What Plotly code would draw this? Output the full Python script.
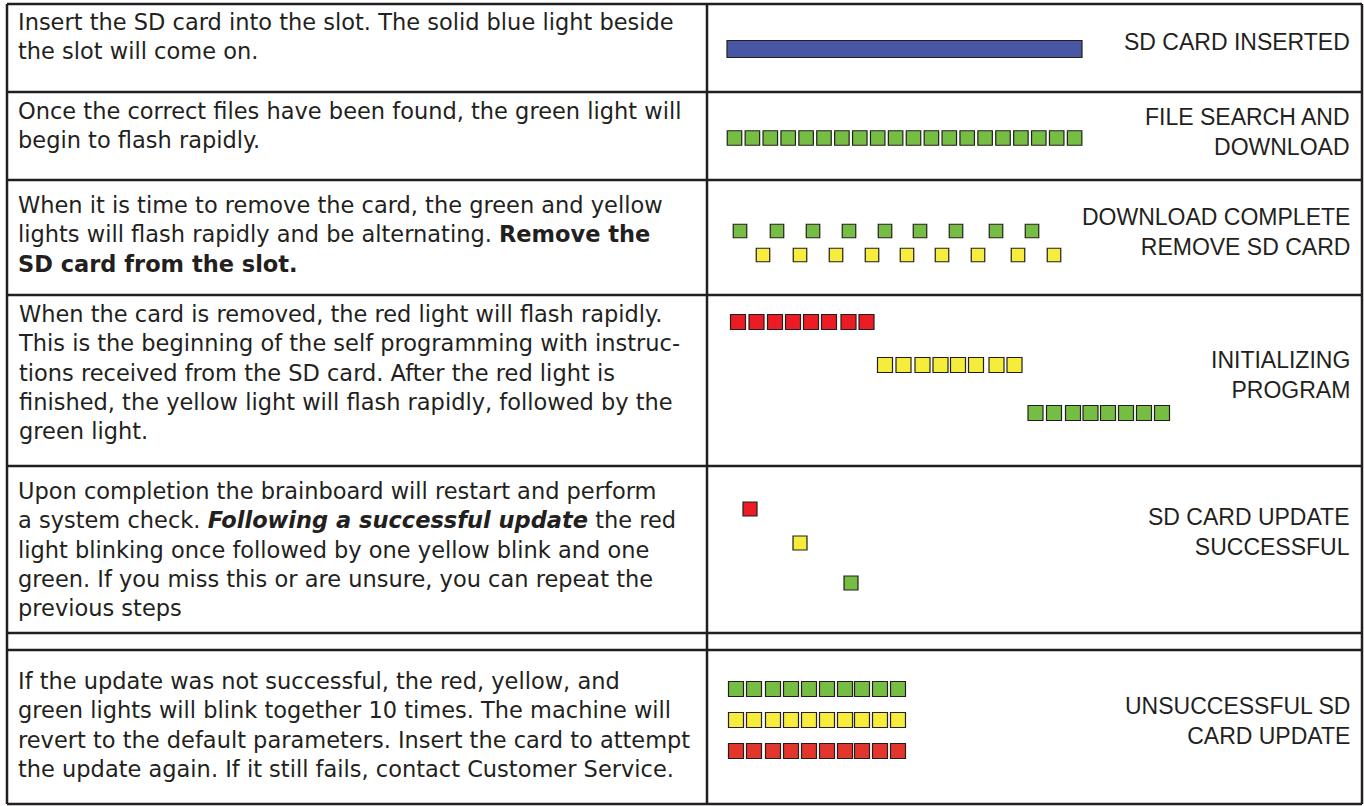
import plotly.graph_objects as go

W, H = 1364, 806

# ---- table grid (card layout, pixel units) ----
col_edges = [7, 707, 1362]
row_edges = [4, 92, 180, 295, 466, 633, 650, 804]

# ---- left column instruction text, one entry per printed line ----
row1_lines = ["Insert the SD card into the slot. The solid blue light beside",
              "the slot will come on."]
row2_lines = ["Once the correct files have been found, the green light will",
              "begin to flash rapidly."]
row3_lines = ["When it is time to remove the card, the green and yellow",
              "lights will flash rapidly and be alternating. <b>Remove the</b>",
              "<b>SD card from the slot.</b>"]
row4_lines = ["When the card is removed, the red light will flash rapidly.",
              "This is the beginning of the self programming with instruc-",
              "tions received from the SD card. After the red light is",
              "finished, the yellow light will flash rapidly, followed by the",
              "green light."]
row5_lines = ["Upon completion the brainboard will restart and perform",
              "a system check. <b><i>Following a successful update</i></b> the red",
              "light blinking once followed by one yellow blink and one",
              "green. If you miss this or are unsure, you can repeat the",
              "previous steps"]
row7_lines = ["If the update was not successful, the red, yellow, and",
              "green lights will blink together 10 times. The machine will",
              "revert to the default parameters. Insert the card to attempt",
              "the update again. If it still fails, contact Customer Service."]
left_first_line_y = [22, 111, 205, 314, 491, 681]

# ---- right column status labels ----
status_labels = [["SD CARD INSERTED"], ["FILE SEARCH AND", "DOWNLOAD"],
                 ["DOWNLOAD COMPLETE", "REMOVE SD CARD"], ["INITIALIZING", "PROGRAM"],
                 ["SD CARD UPDATE", "SUCCESSFUL"], ["UNSUCCESSFUL SD", "CARD UPDATE"]]
status_first_line_y = [42, 117, 217, 360, 517, 706]

# ---- LED light patterns (centres) ----
blue_bar_start, blue_bar_end, blue_bar_y = 727, 1082, 49

search_green_x = [734.5, 752.4, 770.3, 788.2, 806.1, 824.0, 841.9, 859.8, 877.7, 895.6,
                  913.5, 931.4, 949.3, 967.2, 985.1, 1003.0, 1020.9, 1038.8, 1056.7, 1074.6]
search_green_y = 138

complete_green_x = [740, 777, 813, 849, 885, 920, 956, 996, 1032]
complete_green_y = 231
complete_yellow_x = [763, 800, 836, 872, 907, 942, 978, 1018, 1054]
complete_yellow_y = 255

init_red_x = [738, 756.5, 775, 793, 811, 829, 848.5, 866.5]
init_red_y = 322
init_yellow_x = [885, 903.5, 922.5, 940.5, 958, 976, 996.5, 1014.5]
init_yellow_y = 365
init_green_x = [1035.5, 1054, 1073, 1090.5, 1108, 1126, 1144, 1162]
init_green_y = 413

success_x = [750, 800, 851]
success_y = [509, 543, 583]

fail_x = [736, 754, 773, 791, 809, 827, 845, 862, 880, 898]
fail_green_y, fail_yellow_y, fail_red_y = 689, 720, 751

# ---- styles ----
INK = "#231f20"
GREEN = "#76bd43"
YELLOW = "#f6ec3b"
RED = "#ec1c24"
RED2 = "#e2352b"
BLUE = "#4757a4"
BODY_FONT = "DejaVu Sans, Verdana, sans-serif"
LABEL_FONT = "Liberation Sans, Arial, sans-serif"
BODY_SIZE = 22.5
LABEL_SIZE = 23

fig = go.Figure()

# solid blue light
fig.add_trace(go.Bar(x=[blue_bar_end - blue_bar_start], base=[blue_bar_start], y=[blue_bar_y],
                     orientation="h", width=17,
                     marker=dict(color=BLUE, line=dict(color=INK, width=1.2)),
                     hoverinfo="skip"))


def leds(xs, ys, color, size=15):
    if not isinstance(ys, list):
        ys = [ys] * len(xs)
    fig.add_trace(go.Scatter(x=xs, y=ys, mode="markers", hoverinfo="skip",
                             marker=dict(symbol="square", size=size, color=color,
                                         line=dict(color=INK, width=1.2))))


leds(search_green_x, search_green_y, GREEN, 14.5)
leds(complete_green_x, complete_green_y, GREEN, 13.5)
leds(complete_yellow_x, complete_yellow_y, YELLOW, 13.5)
leds(init_red_x, init_red_y, RED, 15)
leds(init_yellow_x, init_yellow_y, YELLOW, 15)
leds(init_green_x, init_green_y, GREEN, 15)
leds(success_x[:1], success_y[:1], RED, 14)
leds(success_x[1:2], success_y[1:2], YELLOW, 14)
leds(success_x[2:], success_y[2:], GREEN, 14)
leds(fail_x, fail_green_y, GREEN, 15)
leds(fail_x, fail_yellow_y, YELLOW, 15)
leds(fail_x, fail_red_y, RED2, 15)

# grid lines
shapes = []
for yv in row_edges:
    shapes.append(dict(type="line", x0=col_edges[0], x1=col_edges[-1], y0=yv, y1=yv,
                       line=dict(color=INK, width=2.5)))
for xv in col_edges:
    shapes.append(dict(type="line", x0=xv, x1=xv, y0=row_edges[0], y1=row_edges[-1],
                       line=dict(color=INK, width=2.5)))

annotations = []
body_step = 1.3 * BODY_SIZE
for lines, y0 in zip([row1_lines, row2_lines, row3_lines, row4_lines, row5_lines, row7_lines],
                     left_first_line_y):
    yc = y0 + (len(lines) - 1) * body_step / 2
    annotations.append(dict(x=16, y=yc, text="<br>".join(lines), xanchor="left",
                            yanchor="middle", align="left", showarrow=False,
                            font=dict(family=BODY_FONT, size=BODY_SIZE, color=INK)))
label_step = 1.3 * LABEL_SIZE
for lines, y0 in zip(status_labels, status_first_line_y):
    yc = y0 + (len(lines) - 1) * label_step / 2
    annotations.append(dict(x=1352, y=yc, text="<br>".join(lines), xanchor="right",
                            yanchor="middle", align="right", showarrow=False,
                            font=dict(family=LABEL_FONT, size=LABEL_SIZE, color=INK)))

fig.update_layout(
    width=W, height=H, margin=dict(l=0, r=0, t=0, b=0),
    paper_bgcolor="white", plot_bgcolor="white", showlegend=False,
    xaxis=dict(range=[0, W], visible=False, fixedrange=True),
    yaxis=dict(range=[H, 0], visible=False, fixedrange=True),
    shapes=shapes, annotations=annotations,
)

fig.write_html("out.html", config={"displayModeBar": False},
               post_script="document.body.style.margin='0px';")
